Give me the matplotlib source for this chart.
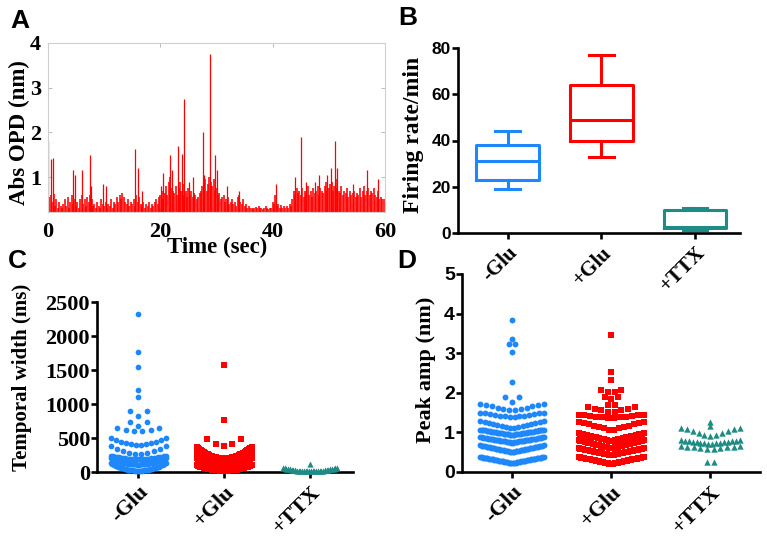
import numpy as np
import matplotlib
matplotlib.use("Agg")
import matplotlib.pyplot as plt

# ---- panel A: |OPD| trace, sampled every 0.25 s (nm) ----
trace_dt = 0.25
trace = [
    0.75, 0.55, 0.60, 0.45, 0.62, 0.35, 0.50, 0.30, 0.45, 0.35,
    0.30, 0.40, 0.50, 0.35, 0.55, 0.30, 0.45, 0.60, 0.40, 0.50,
    0.35, 0.45, 0.30, 0.50, 0.60, 0.40, 0.50, 0.35, 0.55, 0.45,
    0.60, 0.50, 0.35, 0.40, 0.30, 0.45, 0.35, 0.30, 0.50, 0.40,
    0.35, 0.45, 0.30, 0.40, 0.35, 0.50, 0.30, 0.45, 0.40, 0.55,
    0.45, 0.60, 0.50, 0.65, 0.55, 0.45, 0.40, 0.50, 0.35, 0.45,
    0.40, 0.50, 0.35, 0.60, 0.45, 0.55, 0.40, 0.35, 0.45, 0.30,
    0.40, 0.35, 0.45, 0.30, 0.40, 0.35, 0.45, 0.50, 0.40, 0.55,
    0.60, 0.50, 0.70, 0.65, 0.80, 0.60, 0.90, 1.00, 0.75, 0.70,
    0.65, 0.80, 0.60, 0.75, 0.90, 0.70, 0.85, 0.60, 0.70, 0.55,
    0.75, 0.60, 0.70, 0.55, 0.65, 0.60, 0.50, 0.55, 0.65, 0.70,
    0.80, 0.90, 0.95, 0.70, 0.85, 1.00, 0.90, 0.80, 0.95, 0.70,
    0.75, 0.60, 0.65, 0.50, 0.55, 0.60, 0.45, 0.50, 0.55, 0.40,
    0.45, 0.50, 0.40, 0.45, 0.35, 0.55, 0.60, 0.45, 0.40, 0.50,
    0.35, 0.40, 0.30, 0.35, 0.30, 0.32, 0.28, 0.30, 0.33, 0.30,
    0.35, 0.30, 0.32, 0.28, 0.30, 0.35, 0.30, 0.28, 0.32, 0.30,
    0.45, 0.40, 0.60, 0.35, 0.40, 0.30, 0.38, 0.32, 0.35, 0.30,
    0.35, 0.30, 0.40, 0.35, 0.50, 0.70, 0.60, 0.75, 0.65, 0.70,
    0.60, 0.75, 0.55, 0.70, 0.65, 0.80, 0.60, 0.70, 0.55, 0.75,
    0.65, 0.70, 0.80, 0.60, 0.75, 0.70, 0.65, 0.80, 0.90, 0.70,
    0.75, 0.85, 0.90, 0.70, 0.80, 0.95, 0.75, 0.70, 0.65, 0.80,
    0.60, 0.70, 0.65, 0.75, 0.55, 0.70, 0.60, 0.65, 0.70, 0.55,
    0.65, 0.60, 0.75, 0.55, 0.70, 0.80, 0.60, 0.70, 0.75, 0.60,
    0.70, 0.65, 0.75, 0.60, 0.55, 0.70, 0.50, 0.55, 0.50, 0.50,
]
# isolated spikes (time s, height nm)
spike_t = [0.0, 0.6, 0.9, 4.5, 4.8, 6.1, 7.4, 7.6, 9.8, 10.3, 15.5, 16.0, 16.8,
           20.1, 20.5, 21.8, 22.0, 23.1, 23.9, 24.3, 25.1, 25.8, 27.6, 27.8,
           28.9, 29.8, 30.0, 31.8, 34.0, 40.6, 43.9, 45.1, 46.0, 47.5, 48.2,
           49.7, 50.3, 51.1, 51.5, 54.3, 56.8, 58.8]
spike_h = [1.80, 1.40, 1.42, 1.15, 1.05, 1.15, 1.50, 0.80, 0.85, 0.80, 1.62, 1.20, 0.70,
           0.80, 1.10, 1.50, 1.15, 1.70, 1.52, 2.75, 0.90, 1.00, 2.00, 1.05,
           3.75, 1.50, 1.15, 0.80, 0.70, 0.85, 1.00, 1.90, 0.90, 0.90, 1.05,
           1.05, 1.20, 1.80, 1.20, 0.85, 1.15, 0.95]

# ---- panel B: firing rate box plots ----
groups = ["-Glu", "+Glu", "+TTX"]
rate_whislo = [19, 33, 1.3]
rate_q1 = [23, 40, 2.2]
rate_med = [31, 49, 2.6]
rate_q3 = [38, 64, 10]
rate_whishi = [44, 77, 10.8]

# ---- panels C/D: scatter rows (value at centre, value at row ends, n points) ----
width_minus = [(2320, 2320, 1), (1770, 1770, 1), (1540, 1540, 1), (1210, 1210, 1),
               (1100, 1100, 1), (820, 900, 3), (680, 740, 3), (600, 640, 6),
               (400, 500, 12), (270, 380, 10), (190, 240, 28), (110, 210, 36), (20, 130, 40)]
width_plus = [(1580, 1580, 1), (760, 760, 1), (380, 490, 5), (200, 370, 40),
              (130, 280, 45), (60, 200, 45), (20, 100, 45)]
width_ttx = [(120, 120, 1), (10, 60, 32)]

amp_minus = [(3.85, 3.85, 1), (3.35, 3.35, 1), (3.15, 3.22, 2), (3.02, 3.02, 1),
             (2.28, 2.28, 1), (1.78, 1.9, 3), (1.55, 1.72, 12), (1.38, 1.50, 14),
             (1.10, 1.30, 16), (0.93, 1.07, 42), (0.74, 0.88, 42), (0.50, 0.67, 42),
             (0.22, 0.38, 46)]
amp_plus = [(3.45, 3.45, 1), (2.52, 2.52, 1), (2.33, 2.33, 1), (2.0, 2.08, 4),
            (1.85, 1.90, 3), (1.65, 1.68, 2), (1.50, 1.63, 8), (1.35, 1.45, 12),
            (1.05, 1.27, 14), (0.78, 0.98, 42), (0.60, 0.80, 42), (0.42, 0.60, 42),
            (0.20, 0.38, 46)]
amp_ttx = [(1.27, 1.27, 1), (1.15, 1.15, 1), (0.90, 1.12, 11), (0.70, 0.80, 16),
           (0.58, 0.66, 10), (0.18, 0.25, 2)]

BLUE = "#1E87FA"
RED = "#FF0000"
TEAL = "#1E8C84"
SERIF = "Liberation Serif"
SANS = "Liberation Sans"

plt.rcParams["font.family"] = SERIF
plt.rcParams["font.weight"] = "bold"

W, H = 767, 539
fig = plt.figure(figsize=(W / 100, H / 100), dpi=100)


def rect(l, t, r, b):
    return [l / W, 1 - b / H, (r - l) / W, (b - t) / H]


def ftext(x, y, s, **kw):
    fig.text(x / W, 1 - y / H, s, **kw)


def swarm(ax, centre, rows, dx, width, p, **kw):
    xs, ys = [], []
    for lo, hi, n in rows:
        s = dx if n < 2 else min(dx, width / (n - 1))
        off = (np.arange(n) - (n - 1) / 2) * s
        m = np.abs(off).max() if n > 1 else 1.0
        xs.extend(centre + off)
        ys.extend(lo + (hi - lo) * np.abs(off / m) ** p)
    ax.scatter(xs, ys, linewidths=0, clip_on=False, zorder=3, **kw)


def prism_axes(ax, yfont, ysize, xsize):
    ax.set_facecolor("none")
    for s in ["top", "right"]:
        ax.spines[s].set_visible(False)
    for s in ["left", "bottom"]:
        ax.spines[s].set_linewidth(1.9)
    ax.tick_params(direction="out", width=1.9, length=4)
    ax.tick_params(axis="y", pad=1, labelsize=ysize)
    ax.set_xticks([1, 2, 3])
    ax.set_xticklabels(groups, fontsize=xsize, rotation=45, ha="right", va="top",
                       rotation_mode="anchor")
    ax.tick_params(axis="x", pad=3)
    for lab in ax.get_yticklabels():
        lab.set_family(yfont)


# ---- A ----
axA = fig.add_axes(rect(48, 43, 385, 212))
t = np.arange(len(trace)) * trace_dt
axA.vlines(t, 0, trace, color=RED, lw=1.15)
axA.vlines(spike_t, 0, spike_h, color=RED, lw=0.9)
axA.set_xlim(0, 60)
axA.set_ylim(0.22, 4.0)
axA.set_xticks([0, 20, 40, 60])
axA.set_yticks([1, 2, 3, 4])
for s in axA.spines.values():
    s.set_color("#cfcfcf")
    s.set_linewidth(0.8)
axA.tick_params(direction="in", length=3, width=0.6, color="#b0b0b0",
                top=True, right=True, labelsize=16)
axA.tick_params(axis="x", pad=7)
axA.tick_params(axis="y", pad=5)
ftext(19, 133, "Abs OPD (nm)", rotation=90, ha="center", va="center", fontsize=16.5)
ftext(217, 247, "Time (sec)", ha="center", va="center", fontsize=16.5)

# ---- B ----
axB = fig.add_axes(rect(458, 48, 740, 233))
stats = [dict(whislo=a, q1=b, med=c, q3=d, whishi=e)
         for a, b, c, d, e in zip(rate_whislo, rate_q1, rate_med, rate_q3, rate_whishi)]
cols = [BLUE, RED, TEAL]
for i, (st, c) in enumerate(zip(stats, cols)):
    lp = dict(color=c, linewidth=2.2)
    axB.bxp([st], positions=[i + 1], widths=0.67, capwidths=0.26, showfliers=False,
            boxprops=lp, whiskerprops=lp, capprops=lp, medianprops=lp)
axB.set_xlim(0.47, 3.48)
axB.set_ylim(0, 80)
axB.set_yticks([0, 20, 40, 60, 80])
prism_axes(axB, SANS, 12.5, 15)
ftext(413, 135, "Firing rate/min", rotation=90, ha="center", va="center", fontsize=17)

# ---- C ----
axC = fig.add_axes(rect(97, 302, 353, 472))
swarm(axC, 1, width_minus, 0.097, 0.64, 2, s=17, marker="o", color=BLUE)
swarm(axC, 2, width_plus, 0.097, 0.64, 2, s=17, marker="s", color=RED)
swarm(axC, 3, width_ttx, 0.097, 0.63, 2, s=20, marker="^", color=TEAL)
axC.set_xlim(0.52, 3.5)
axC.set_ylim(0, 2500)
axC.set_yticks(range(0, 2501, 500))
prism_axes(axC, SERIF, 16, 16)
ftext(22, 377, "Temporal width (ms)", rotation=90, ha="center", va="center", fontsize=15)

# ---- D ----
axD = fig.add_axes(rect(462, 274, 760, 472))
swarm(axD, 1, amp_minus, 0.067, 0.64, 1, s=18, marker="o", color=BLUE)
swarm(axD, 2, amp_plus, 0.067, 0.66, 1, s=18, marker="s", color=RED)
swarm(axD, 3, amp_ttx, 0.067, 0.60, 1, s=21, marker="^", color=TEAL)
axD.set_xlim(0.495, 3.5)
axD.set_ylim(0, 5)
axD.set_yticks(range(0, 6))
prism_axes(axD, SANS, 14, 16)
ftext(426, 370, "Peak amp (nm)", rotation=90, ha="center", va="center", fontsize=16)

# panel letters
for x, y, s in [(10, 9, "A"), (398, 6, "B"), (8, 249, "C"), (397, 249, "D")]:
    ftext(x, y, s, ha="left", va="top", family=SANS, weight="bold", fontsize=19)

fig.savefig("out.png", dpi=100)
